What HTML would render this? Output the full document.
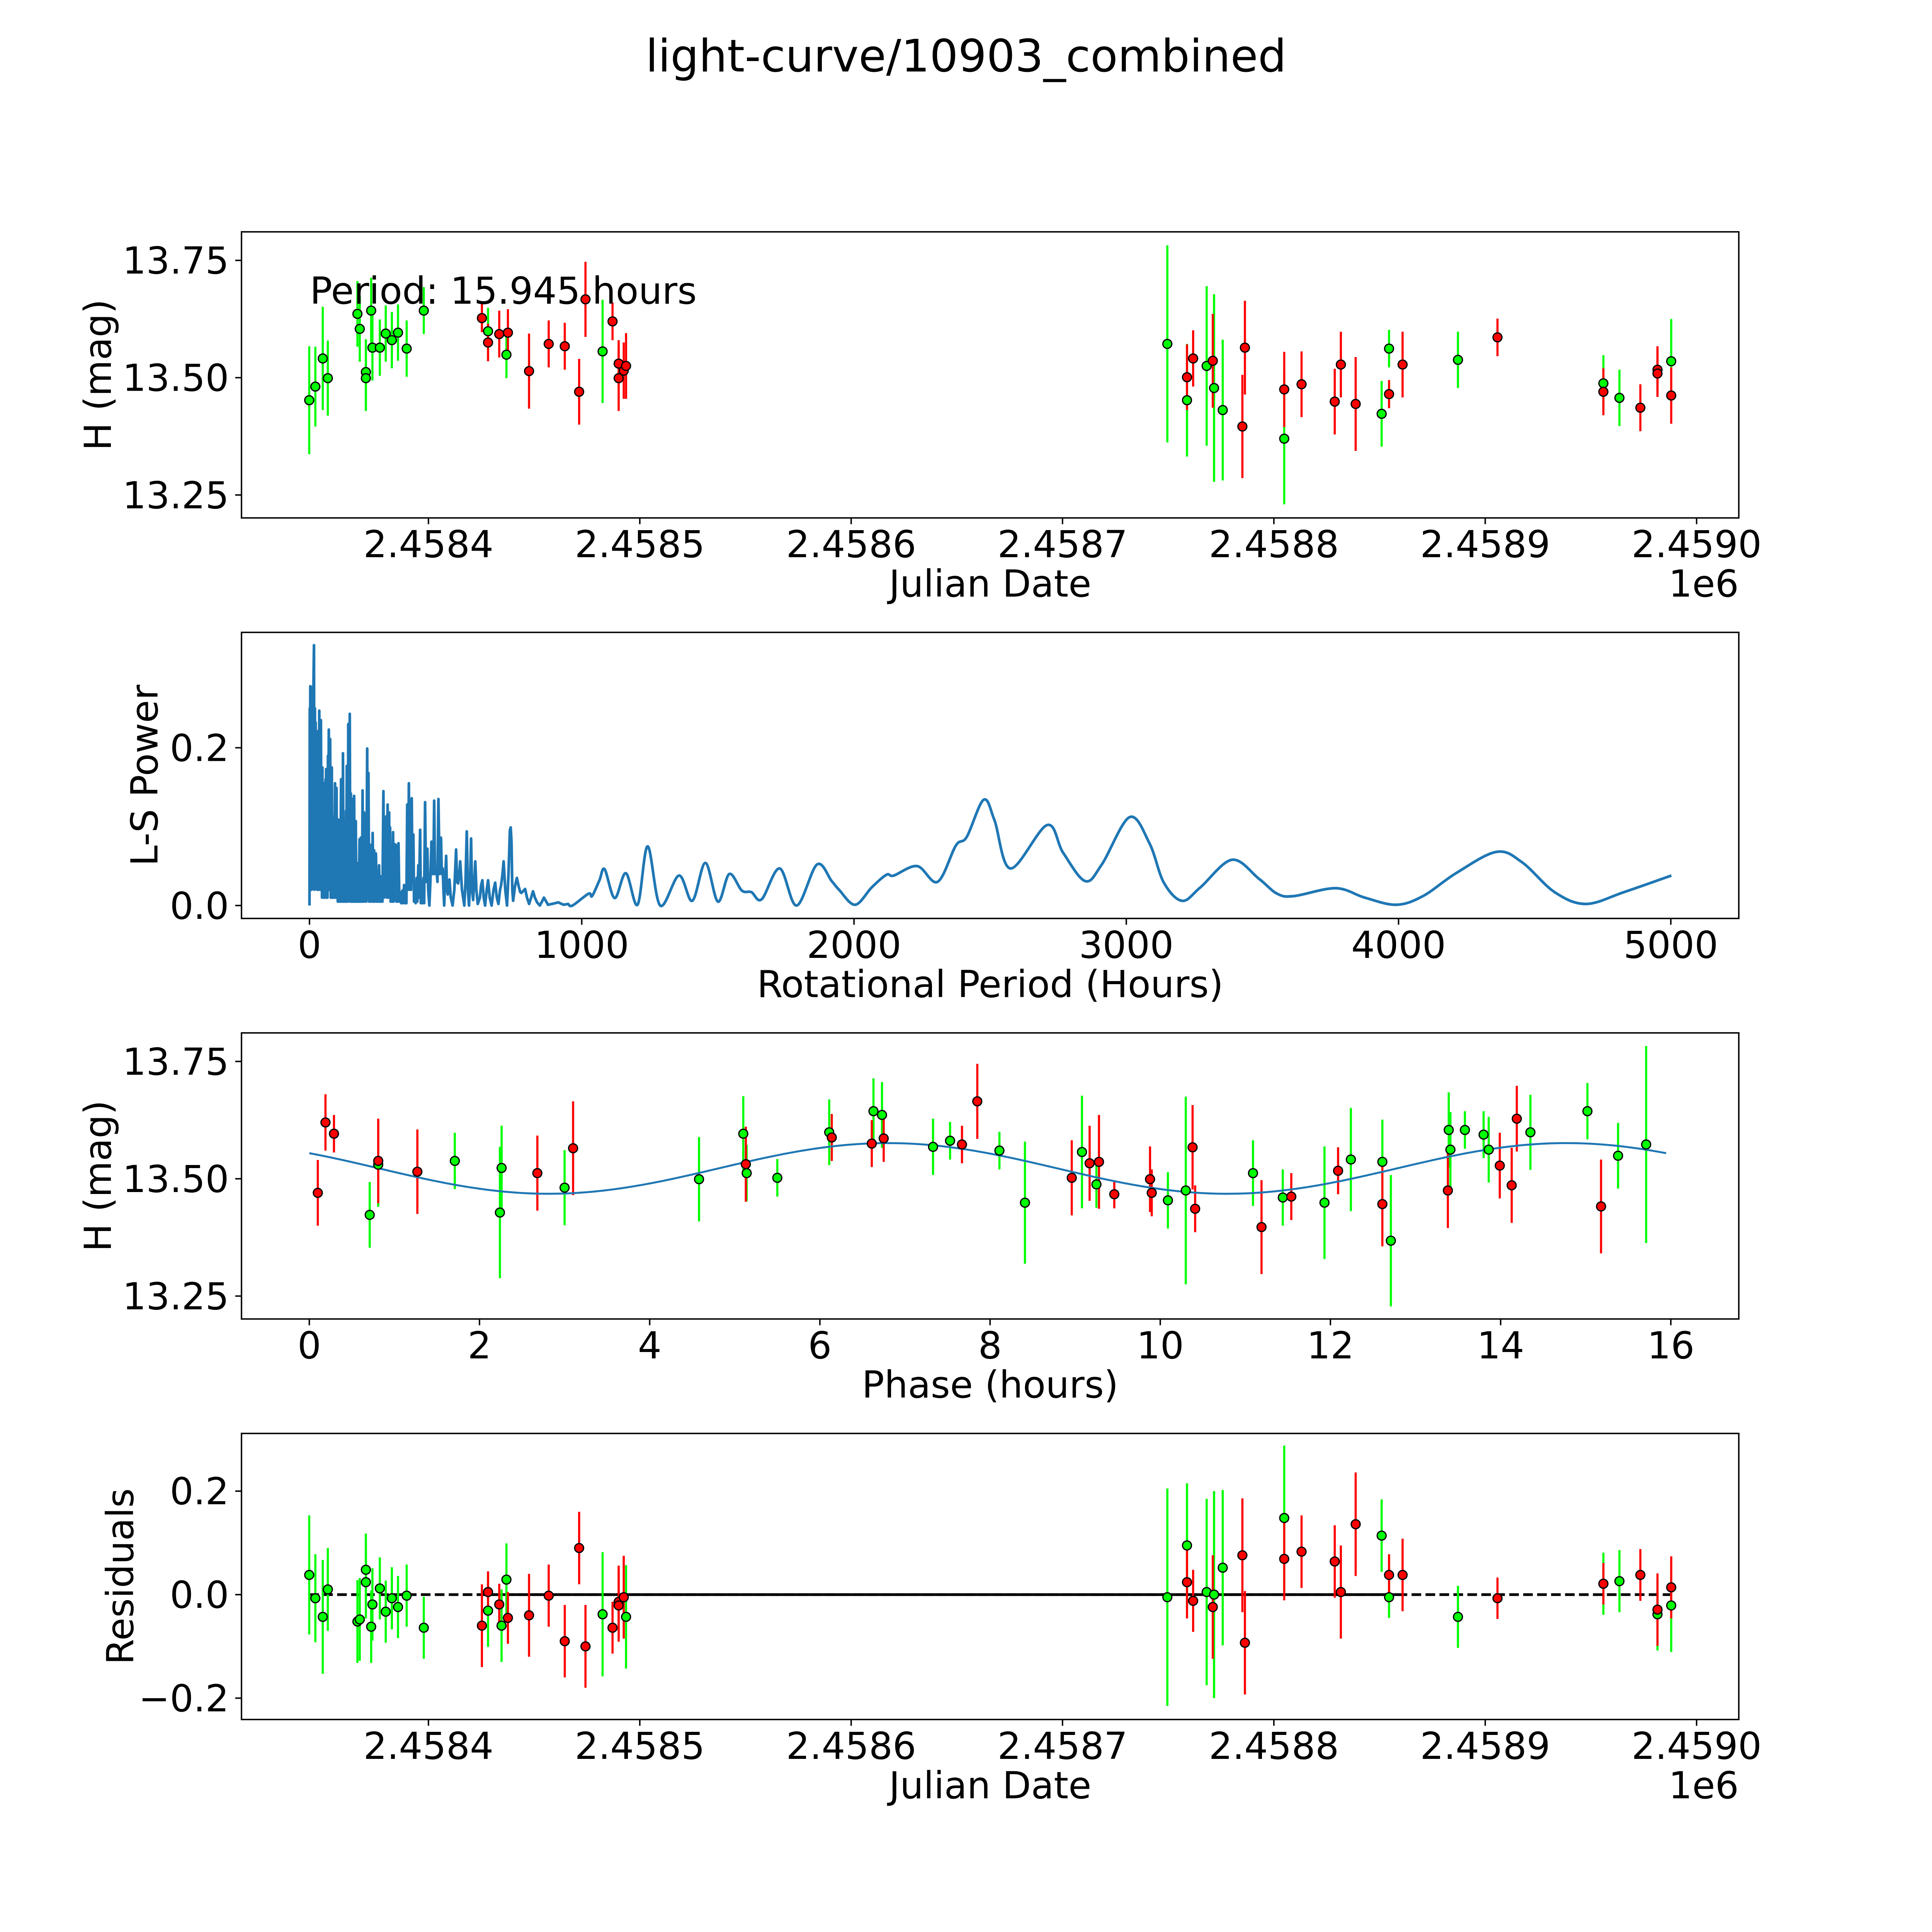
<!DOCTYPE html>
<html><head><meta charset="utf-8"><style>
html,body{margin:0;padding:0;background:#fff;overflow:hidden;width:100%;height:100%;}
svg{display:block;width:100vw;height:100vh;font-family:"DejaVu Sans","Liberation Sans",sans-serif;}
</style></head><body>
<svg id="fig" viewBox="0 0 5400 5400" preserveAspectRatio="none" xmlns="http://www.w3.org/2000/svg">
<rect width="5400" height="5400" fill="#fff"/>
<text x="2700" y="200" font-size="125" text-anchor="middle">light-curve/10903_combined</text>
</svg>
<script>
// ---------- Panel 1: light curve (days offset from JD 2458400) ----------
const gDay = [-56.4,-53.5,-50.0,-47.6,-33.6,-32.5,-29.6,-29.6,-27.1,-26.5,-23.0,-20.2,-17.3,-14.4,-10.3,-2.2,28.2,36.9,82.4,349.6,358.9,368.2,371.7,375.8,404.9,451.0,454.5,487.1,555.9,563.5,588.0];
const gMag = [13.452,13.481,13.541,13.499,13.636,13.604,13.512,13.499,13.643,13.564,13.564,13.594,13.580,13.596,13.562,13.643,13.599,13.549,13.556,13.572,13.452,13.525,13.478,13.431,13.370,13.423,13.562,13.538,13.488,13.457,13.535];
const gErr = [0.115,0.085,0.11,0.08,0.07,0.07,0.07,0.07,0.07,0.07,0.06,0.06,0.06,0.06,0.06,0.05,0.05,0.05,0.11,0.21,0.12,0.17,0.2,0.15,0.14,0.07,0.04,0.06,0.06,0.06,0.09];
const rDay = [25.3,28.2,33.5,37.6,47.6,56.9,64.5,71.3,74.3,87.1,90.0,90.0,92.4,93.5,358.9,361.8,371.1,385.1,386.3,404.9,413.1,428.8,431.7,438.7,454.5,460.9,505.8,555.9,573.4,581.5,581.5,588.0];
const rMag = [13.627,13.575,13.593,13.596,13.514,13.572,13.567,13.470,13.667,13.620,13.530,13.499,13.515,13.525,13.501,13.541,13.536,13.396,13.564,13.475,13.486,13.449,13.528,13.444,13.465,13.528,13.586,13.470,13.436,13.517,13.509,13.462];
const rErr = [0.03,0.04,0.05,0.05,0.08,0.05,0.05,0.07,0.08,0.04,0.05,0.07,0.06,0.07,0.07,0.06,0.1,0.11,0.1,0.08,0.07,0.07,0.07,0.1,0.03,0.07,0.04,0.05,0.05,0.05,0.05,0.06];
const jdTicks = [2458400,2458500,2458600,2458700,2458800,2458900,2459000];
const jdTickLabels = ["2.4584","2.4585","2.4586","2.4587","2.4588","2.4589","2.4590"];
const magTicks = [13.75,13.50,13.25];
const magTickLabels = ["13.75","13.50","13.25"];

// ---------- Panel 2: Lomb-Scargle periodogram ----------
const lsPeriod = [0,1,2,3,4,5,6,7,8,9,10,12,13,15,16.6,18,20,21,22.6,25,27,28,30,32,34,35,36,38,40,41,42,44,45,46,47.5,49,51,52,53.5,55,57,58,59,60,61,63,65,66,68,69,71,72.5,76,78,80,81,82,84,86,88,90,91,94,96,97,98,99.5,101,103,104,105.6,107,109,110,111,113,116,118,121,122,123,125,127,128,130,132,134,135,137,139,140,141,142.5,145,148,150,152,154,156,157,158,160,162,163,164,166,168,169,170,172,175,177,179.5,181,184,186,188.5,190,192,193,195,197,200.6,203,206.6,209,212,214,216.5,219,221,223,226,229,232,235,237.5,240,244,247,250,252,255.6,258,261.7,263,265.5,268,271.5,274,276.8,279,282,284,287,289,292.6,294,296,298,301,304,307,309,312,314,317,319,322,324,327,330,333,337,341,344,347.6,351,354,356,359,362,365,368,371,373,375.5,378,381.6,384,387,390,393.7,396,399.7,402,406.5,409,412.5,415,418.6,421,424.6,428,433,436,440.4,444,448,452,455,458,461,464.5,468,470,473.6,478,483,486,489.4,492,494.7,498,502,505,508,511,514,519,525.6,532,538.5,542,546,550,553.5,560,568.6,573,577.7,582,586,590,593.5,597,601,605,609,613,618,626,630,635,640,645,651,656,662,669,676,682,688,694,700,704,709,713,719,725.5,731,736,739,742,745,748,755,761.7,768,774,778,784,792,799,806.6,814,821,828,836,846,854,861,868,876,890,914,933,950,
966,1025,1038,1065,1084,1121,1162,1205,1242,1288,1357,1406,1454,1500,1542,1588,1623,1661,1727,1789,1864,1918,1945,2004,2065,2119,2146,2232,2307,2374,2414,2476,2516,2575,2709,2768,2849,2910,3012,3085,3138,3205,3272,3388,3487,3554,3616,3769,3876,3991,4090,4211,4359,4453,4573,4688,4828,5002];
const lsPower = [0,0.25,0.02,0.278,0.05,0.26,0.03,0.27,0.02,0.277,0.05,0.2,0.03,0.29,0.33,0.02,0.25,0.05,0.232,0.03,0.18,0.02,0.221,0.02,0.15,0.03,0.247,0.02,0.16,0.03,0.235,0.02,0.17,0.01,0.175,0.02,0.14,0.01,0.155,0.02,0.12,0.01,0.16,0.02,0.173,0.01,0.14,0.01,0.19,0.02,0.223,0.02,0.211,0.01,0.12,0.01,0.175,0.01,0.113,0.01,0.08,0.01,0.155,0.01,0.1,0.01,0.149,0.01,0.07,0.005,0.109,0.005,0.06,0.005,0.081,0.005,0.16,0.005,0.11,0.005,0.193,0.005,0.08,0.005,0.109,0.005,0.12,0.005,0.177,0.005,0.15,0.005,0.23,0.01,0.243,0.005,0.142,0.005,0.09,0.005,0.135,0.005,0.07,0.005,0.139,0.005,0.06,0.005,0.107,0.005,0.051,0.005,0.054,0.005,0.084,0.005,0.086,0.005,0.05,0.005,0.146,0.005,0.118,0.005,0.112,0.005,0.199,0.01,0.168,0.005,0.075,0.005,0.077,0.005,0.092,0.005,0.07,0.005,0.066,0.005,0.037,0.005,0.051,0.005,0.037,0.005,0.012,0.005,0.145,0.01,0.109,0.02,0.113,0.01,0.128,0.01,0.118,0.02,0.099,0.005,0.073,0.005,0.093,0.005,0.078,0.01,0.077,0.005,0.051,0.005,0.079,0.005,0.017,0.003,0.019,0.003,0.026,0.003,0.019,0.003,0.128,0.02,0.155,0.02,0.021,0.02,0.136,0.03,0.09,0.005,0.025,0.003,0.035,0.005,0.051,0.01,0.096,0.003,0.026,0.003,0.035,0.003,0.131,0.03,0.072,0.02,0.0,0.03,0.081,0.04,0.04,0.133,0.04,0.04,0.04,0.03,0.135,0.04,0.086,0.04,0.047,0.02,0.0,0.03,0.063,0.02,0.014,0.02,0.033,0.01,0.0,0.02,0.071,0.03,0.028,0.04,0.056,0.02,0.0,0.03,0.094,0.02,0.0,0.03,0.085,0.02,0.007,0.03,0.056,0.02,0.002,0.01,0.025,0.032,0.01,0.0,0.02,0.032,0.01,0.0,0.02,0.029,0.01,0.002,0.02,0.026,0.04,0.056,0.02,0.0,0.04,0.095,0.099,0.08,0.02,0.006,0.025,0.035,0.025,0.017,0.016,0.018,0.021,0.01,0.002,0.01,0.018,0.01,0.004,0.0,0.005,0.010,0.006,0.001,0.002,0.004,0.001,0.002,
0.0,0.015,0.012,0.032,0.046,0.0095,0.041,0.001,0.075,0.0,0.038,0.006,0.054,0.005,0.040,0.019,0.017,0.008,0.047,0.0,0.052,0.031,0.020,0.001,0.023,0.039,0.038,0.05,0.03,0.076,0.087,0.134,0.108,0.047,0.102,0.067,0.031,0.052,0.112,0.079,0.029,0.006,0.023,0.058,0.034,0.015,0.012,0.022,0.010,0.001,0.012,0.041,0.068,0.055,0.017,0.002,0.017,0.038];
const lsSmoothStart = 966;
const lsXTicks = [0,1000,2000,3000,4000,5000];
const lsXTickLabels = ["0","1000","2000","3000","4000","5000"];
const lsYTicks = [0.0,0.2];
const lsYTickLabels = ["0.0","0.2"];

// ---------- Panel 3: phase-folded ----------
const gPhase = [0.71,0.81,1.71,2.26,2.24,3.0,4.58,5.10,5.14,5.50,6.11,6.63,6.73,7.33,7.53,8.11,8.41,9.08,9.25,10.09,10.30,11.09,11.44,11.93,12.24,12.61,12.71,13.39,13.41,13.58,13.80,13.86,14.35,15.02,15.38,15.71];
const gPhaseMag = [13.423,13.530,13.538,13.523,13.428,13.481,13.499,13.596,13.512,13.502,13.599,13.644,13.636,13.568,13.581,13.560,13.449,13.557,13.488,13.454,13.475,13.512,13.460,13.449,13.541,13.536,13.368,13.604,13.562,13.604,13.594,13.562,13.599,13.644,13.549,13.573];
const gPhaseErr = [0.07,0.09,0.06,0.09,0.14,0.08,0.09,0.08,0.06,0.04,0.07,0.07,0.07,0.06,0.04,0.04,0.13,0.12,0.05,0.06,0.2,0.07,0.06,0.12,0.11,0.09,0.14,0.08,0.08,0.04,0.05,0.07,0.08,0.06,0.07,0.21];
const rPhase = [0.10,0.19,0.29,0.81,1.27,2.68,3.10,5.13,6.14,6.61,6.75,7.67,7.85,8.96,9.17,9.28,9.46,9.88,9.90,10.38,10.41,11.19,11.54,12.09,12.61,13.38,13.99,14.13,14.19,15.18];
const rPhaseMag = [13.470,13.620,13.596,13.538,13.515,13.512,13.565,13.531,13.588,13.575,13.586,13.573,13.665,13.502,13.533,13.536,13.467,13.499,13.470,13.567,13.436,13.397,13.462,13.517,13.446,13.475,13.528,13.486,13.628,13.441];
const rPhaseErr = [0.07,0.06,0.04,0.09,0.09,0.08,0.1,0.08,0.05,0.05,0.05,0.04,0.08,0.08,0.08,0.1,0.03,0.07,0.05,0.09,0.05,0.1,0.05,0.05,0.09,0.08,0.07,0.08,0.07,0.1];
const fitPeriod = 15.945;
const fitMean = 13.522;
const fitAmp = 0.054;
const fitPeakPhase = 6.8;
const phTicks = [0,2,4,6,8,10,12,14,16];
const phTickLabels = ["0","2","4","6","8","10","12","14","16"];

// ---------- Panel 4: residuals ----------
const gResDay = [-56.4,-53.5,-50,-47.6,-33.6,-32.5,-29.6,-29.6,-27.1,-26.5,-23,-20.2,-17.3,-14.4,-10.3,-2.2,28.2,34.6,36.9,82.4,93.5,349.6,358.9,368.2,371.7,375.8,404.9,451,454.5,487.1,555.9,563.5,581.5,588];
const gRes = [0.038,-0.007,-0.043,0.010,-0.052,-0.048,0.048,0.024,-0.062,-0.019,0.012,-0.033,-0.007,-0.024,-0.002,-0.064,-0.031,-0.060,0.029,-0.038,-0.043,-0.005,0.095,0.005,0,0.052,0.148,0.114,-0.005,-0.043,0.021,0.026,-0.038,-0.021];
const gResErr = [0.115,0.085,0.11,0.08,0.08,0.08,0.07,0.07,0.07,0.07,0.06,0.06,0.06,0.06,0.06,0.06,0.07,0.07,0.07,0.12,0.1,0.21,0.12,0.18,0.2,0.15,0.14,0.07,0.04,0.06,0.06,0.06,0.07,0.09];
const rResDay = [25.3,28.2,33.5,37.6,47.6,56.9,64.5,71.3,74.3,87.1,90,90,92.4,358.9,361.8,371.1,385.1,386.3,404.9,413.1,428.8,431.7,438.7,454.5,460.9,505.8,555.9,573.4,581.5,588];
const rRes = [-0.060,0.005,-0.019,-0.045,-0.040,-0.002,-0.090,0.090,-0.100,-0.064,-0.014,-0.021,-0.005,0.024,-0.012,-0.024,0.076,-0.093,0.069,0.083,0.064,0.005,0.136,0.038,0.038,-0.007,0.021,0.038,-0.029,0.014];
const rResErr = [0.08,0.04,0.04,0.05,0.08,0.06,0.07,0.07,0.08,0.05,0.07,0.07,0.08,0.07,0.06,0.1,0.11,0.1,0.08,0.07,0.07,0.09,0.1,0.04,0.07,0.04,0.04,0.05,0.07,0.06];
const resTicks = [0.2,0.0,-0.2];
const resTickLabels = ["0.2","0.0","\u22120.2"];
const dashedSpan = [-56.4,588];
const solidSpan = [25.3,460.9];

// ---------- layout ----------
const NS = "http://www.w3.org/2000/svg";
const svg = document.getElementById('fig');
const L = 675, R = 4860, H = 799.6;
const FS = 104;
const tops = [648, 1767.5, 2887, 4006.5];
function mk(tag, attrs, parent) {
  const e = document.createElementNS(NS, tag);
  for (const k in attrs) e.setAttribute(k, attrs[k]);
  (parent || svg).appendChild(e);
  return e;
}
function lin(d0, d1, p0, p1) { return v => p0 + (v - d0) * (p1 - p0) / (d1 - d0); }
const jdX = lin(0, 600, 1197.5, 1197.5 + 600 * 5.9075);
const magY1 = lin(13.75, 13.25, 727.8, 1383.5);
const magY3 = lin(13.75, 13.25, 727.8 + 2239, 1383.5 + 2239);
const lsX = lin(0, 5000, 865, 4670);
const lsY = lin(0, 0.2, 2531, 2090);
const phX = lin(0, 16, 864.5, 4670);
const resY = lin(0, 0.2, 4457, 4167.7);

function frame(i, name) {
  const g = mk('g', {});
  
  
  return g;
}
function spine(g, top) {
  const r = mk('rect', {x: L, y: top, width: R - L, height: H, fill: 'none', stroke: '#000', 'stroke-width': 4}, g);
  
  
}
function xticks(g, top, vals, labels, fx) {
  vals.forEach((v, i) => {
    const x = fx(v);
    const t = mk('line', {x1: x, x2: x, y1: top + H, y2: top + H + 17.5, stroke: '#000', 'stroke-width': 4}, g);
    
    
    const tx = mk('text', {x: x, y: top + H + 110, 'font-size': FS, 'text-anchor': 'middle'}, g);
    tx.textContent = labels[i];
    
    
  });
}
function yticks(g, vals, labels, fy) {
  vals.forEach((v, i) => {
    const y = fy(v);
    const t = mk('line', {x1: L - 17.5, x2: L, y1: y, y2: y, stroke: '#000', 'stroke-width': 4}, g);
    
    
    const tx = mk('text', {x: 640, y: y + 37, 'font-size': FS, 'text-anchor': 'end'}, g);
    tx.textContent = labels[i];
    
    
  });
}
function xlabel(g, top, txt) {
  const t = mk('text', {x: (L + R) / 2, y: top + H + 220, 'font-size': FS, 'text-anchor': 'middle'}, g);
  t.textContent = txt;
  
  
}
function ylabel(g, top, txt, x) {
  const cy = top + H / 2;
  const t = mk('text', {x: x, y: cy, 'font-size': FS, 'text-anchor': 'middle', transform: `rotate(-90 ${x} ${cy})`}, g);
  t.textContent = txt;
  
  
}
function offsetText(g, top) {
  const t = mk('text', {x: R, y: top + H + 220, 'font-size': FS, 'text-anchor': 'end'}, g);
  t.textContent = '1e6';
  
  
}
function errSeries(g, xs, ys, es, fx, fy, color, name) {
  const gg = mk('g', {}, g);
  
  
  xs.forEach((xv, i) => {
    const x = fx(xv);
    const l = mk('line', {x1: x, x2: x, y1: fy(ys[i] - es[i]), y2: fy(ys[i] + es[i]), stroke: color, 'stroke-width': 6}, gg);
    
    
  });
}
function ptSeries(g, xs, ys, fx, fy, color, name) {
  const gg = mk('g', {}, g);
  
  
  xs.forEach((xv, i) => {
    const c = mk('circle', {cx: fx(xv), cy: fy(ys[i]), r: 12.5, fill: color, stroke: '#000', 'stroke-width': 3.5}, gg);
    
    
  });
}

// Panel 1
{
  const top = tops[0];
  const g = frame(0, 'light-curve-panel');
  errSeries(g, gDay, gMag, gErr, jdX, magY1, '#00ff00', 'green');
  errSeries(g, rDay, rMag, rErr, jdX, magY1, '#ff0000', 'red');
  ptSeries(g, gDay, gMag, jdX, magY1, '#00ff00', 'green');
  ptSeries(g, rDay, rMag, jdX, magY1, '#ff0000', 'red');
  const pt = mk('text', {x: 866, y: 849, 'font-size': FS}, g);
  pt.textContent = 'Period: 15.945 hours';
  
  
  spine(g, top);
  xticks(g, top, jdTicks, jdTickLabels, v => jdX(v - 2458400));
  yticks(g, magTicks, magTickLabels, magY1);
  xlabel(g, top, 'Julian Date');
  offsetText(g, top);
  ylabel(g, top, 'H (mag)', 310);
}
// Panel 2
{
  const top = tops[1];
  const g = frame(1, 'periodogram-panel');
  let d1 = '', pts = [];
  lsPeriod.forEach((p, i) => { if (p < lsSmoothStart) d1 += (d1 ? 'L' : 'M') + lsX(p).toFixed(1) + ' ' + lsY(lsPower[i]).toFixed(1); else pts.push([lsX(p), lsY(lsPower[i])]); });
  const lastDense = lsPeriod.filter(p => p < lsSmoothStart).length - 1;
  const all = [[lsX(lsPeriod[lastDense]), lsY(lsPower[lastDense])]].concat(pts);
  let d2 = '';
  for (let i = 0; i < all.length - 1; i++) {
    const p0 = all[Math.max(0, i - 1)], p1 = all[i], p2 = all[i + 1], p3 = all[Math.min(all.length - 1, i + 2)];
    const c1 = [p1[0] + (p2[0] - p0[0]) / 6, p1[1] + (p2[1] - p0[1]) / 6];
    const c2 = [p2[0] - (p3[0] - p1[0]) / 6, p2[1] - (p3[1] - p1[1]) / 6];
    d2 += `C${c1[0].toFixed(1)} ${c1[1].toFixed(1)} ${c2[0].toFixed(1)} ${c2[1].toFixed(1)} ${p2[0].toFixed(1)} ${p2[1].toFixed(1)}`;
  }
  const path = mk('path', {d: d1 + d2, fill: 'none', stroke: '#1f77b4', 'stroke-width': 7.5, 'stroke-linejoin': 'round'}, g);
  
  
  spine(g, top);
  xticks(g, top, lsXTicks, lsXTickLabels, lsX);
  yticks(g, lsYTicks, lsYTickLabels, lsY);
  xlabel(g, top, 'Rotational Period (Hours)');
  ylabel(g, top, 'L-S Power', 440);
}
// Panel 3
{
  const top = tops[2];
  const g = frame(2, 'phase-panel');
  errSeries(g, gPhase, gPhaseMag, gPhaseErr, phX, magY3, '#00ff00', 'green');
  errSeries(g, rPhase, rPhaseMag, rPhaseErr, phX, magY3, '#ff0000', 'red');
  let d = '';
  for (let i = 0; i <= 200; i++) {
    const ph = fitPeriod * i / 200;
    const m = fitMean + fitAmp * Math.cos(4 * Math.PI * (ph - fitPeakPhase) / fitPeriod);
    d += (i ? 'L' : 'M') + phX(ph).toFixed(1) + ' ' + magY3(m).toFixed(1);
  }
  const fit = mk('path', {d: d, fill: 'none', stroke: '#1f77b4', 'stroke-width': 5.5}, g);
  
  
  ptSeries(g, gPhase, gPhaseMag, phX, magY3, '#00ff00', 'green');
  ptSeries(g, rPhase, rPhaseMag, phX, magY3, '#ff0000', 'red');
  spine(g, top);
  xticks(g, top, phTicks, phTickLabels, phX);
  yticks(g, magTicks, magTickLabels, magY3);
  xlabel(g, top, 'Phase (hours)');
  ylabel(g, top, 'H (mag)', 310);
}
// Panel 4
{
  const top = tops[3];
  const g = frame(3, 'residuals-panel');
  const dl = mk('line', {x1: jdX(dashedSpan[0]), x2: jdX(dashedSpan[1]), y1: resY(0), y2: resY(0), stroke: '#000', 'stroke-width': 7.5, 'stroke-dasharray': '27,12'}, g);
  
  
  const sl = mk('line', {x1: jdX(solidSpan[0]), x2: jdX(solidSpan[1]), y1: resY(0), y2: resY(0), stroke: '#000', 'stroke-width': 7.5}, g);
  
  
  errSeries(g, gResDay, gRes, gResErr, jdX, resY, '#00ff00', 'green');
  errSeries(g, rResDay, rRes, rResErr, jdX, resY, '#ff0000', 'red');
  ptSeries(g, gResDay, gRes, jdX, resY, '#00ff00', 'green');
  ptSeries(g, rResDay, rRes, jdX, resY, '#ff0000', 'red');
  spine(g, top);
  xticks(g, top, jdTicks, jdTickLabels, v => jdX(v - 2458400));
  yticks(g, resTicks, resTickLabels, resY);
  xlabel(g, top, 'Julian Date');
  offsetText(g, top);
  ylabel(g, top, 'Residuals', 372);
}
</script>
</body></html>
